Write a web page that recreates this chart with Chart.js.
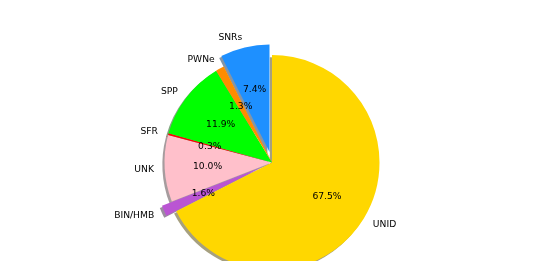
<!DOCTYPE html>
<html><head><meta charset="utf-8">
<script src="https://cdn.jsdelivr.net/npm/chart.js@4"></script>
<style>html,body{margin:0;padding:0;background:#fff;overflow:hidden}</style>
</head><body>
<canvas id="c" width="533" height="261"></canvas>
<script>
// Data in matplotlib order (counter-clockwise from the top)
const categories = ['SNRs', 'PWNe', 'SPP', 'SFR', 'UNK', 'BIN/HMB', 'UNID'];
const percentages = [7.4, 1.3, 11.9, 0.3, 10.0, 1.6, 67.5];
const sliceColors = ['#1E90FF', '#FF8C00', '#00FF00', '#FF0000', '#FFC0CB', '#BA55D3', '#FFD700'];
const explode = [0.1, 0, 0, 0, 0, 0.1, 0];

// Chart.js draws clockwise: reverse to get the same arrangement
const labels = categories.slice().reverse();
const values = percentages.slice().reverse();
const colors = sliceColors.slice().reverse();
const ex = explode.slice().reverse();

const R = 107.5;
const FONT = '9.2px "DejaVu Sans"';
const TEXT_DY = 0.8;
const SHADOW = 2.15;

function shadowColor(hex) {
  const n = parseInt(hex.slice(1), 16);
  const r = (n >> 16) & 255, g = (n >> 8) & 255, b = n & 255;
  return 'rgba(' + Math.round(r * 0.3) + ',' + Math.round(g * 0.3) + ',' + Math.round(b * 0.3) + ',0.5)';
}

const mplPie = {
  id: 'mplPie',
  beforeDatasetsDraw(chart) {
    const meta = chart.getDatasetMeta(0);
    const ctx = chart.ctx;
    meta.data.forEach((arc, i) => {
      const mid = (arc.startAngle + arc.endAngle) / 2;
      const e = ex[i] * arc.outerRadius;
      arc._ox = arc.x; arc._oy = arc.y;
      arc.x += Math.cos(mid) * e;
      arc.y += Math.sin(mid) * e;
    });
    meta.data.forEach((arc) => {
      const opts = arc.options;
      const sc = shadowColor(opts.backgroundColor);
      ctx.save();
      ctx.translate(-SHADOW, SHADOW);
      arc.options = Object.assign({}, opts, {backgroundColor: sc, borderColor: sc, borderWidth: 0});
      arc.draw(ctx);
      arc.options = opts;
      ctx.restore();
    });
  },
  afterDatasetsDraw(chart) {
    const meta = chart.getDatasetMeta(0);
    const ctx = chart.ctx;
    ctx.save();
    ctx.font = FONT;
    ctx.fillStyle = '#000';
    ctx.textBaseline = 'middle';
    meta.data.forEach((arc, i) => {
      const mid = (arc.startAngle + arc.endAngle) / 2;
      const r = arc.outerRadius;
      const lx = arc.x + 1.1 * r * Math.cos(mid);
      const ly = arc.y + 1.1 * r * Math.sin(mid) + TEXT_DY;
      ctx.textAlign = Math.cos(mid) > 0 ? 'left' : 'right';
      ctx.fillText(labels[i], lx, ly);
      const px = arc.x + 0.6 * r * Math.cos(mid);
      const py = arc.y + 0.6 * r * Math.sin(mid) + TEXT_DY;
      ctx.textAlign = 'center';
      ctx.fillText(values[i].toFixed(1) + '%', px, py);
    });
    ctx.restore();
    meta.data.forEach((arc) => { arc.x = arc._ox; arc.y = arc._oy; });
  }
};

new Chart(document.getElementById('c'), {
  type: 'pie',
  data: {
    labels: labels,
    datasets: [{
      data: values,
      backgroundColor: colors,
      borderWidth: 0,
      offset: 0,
      clip: false
    }]
  },
  options: {
    responsive: false,
    animation: false,
    events: [],
    radius: R,
    layout: {padding: {left: 11, right: 0, top: 64, bottom: 0}},
    plugins: {legend: {display: false}, tooltip: {enabled: false}}
  },
  plugins: [mplPie]
});
</script>
</body></html>
